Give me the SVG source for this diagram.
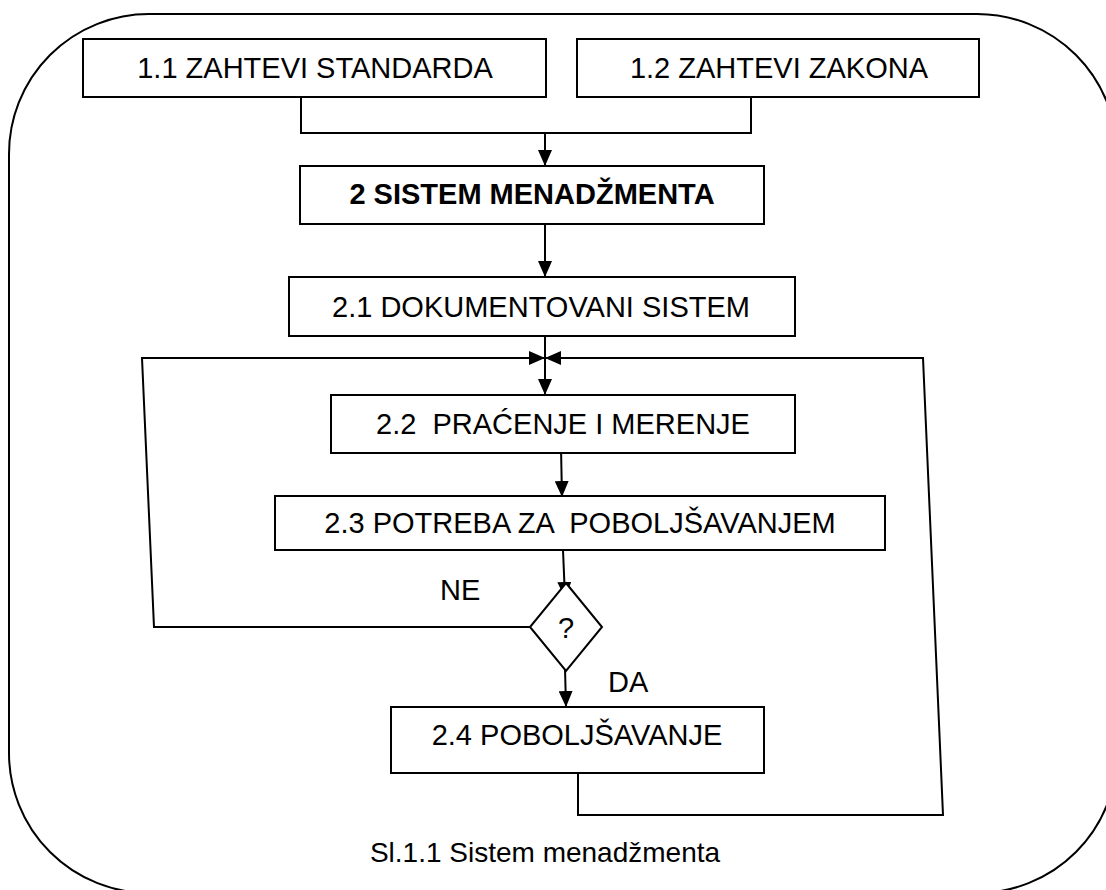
<svg xmlns="http://www.w3.org/2000/svg" width="1106" height="890" viewBox="0 0 1106 890">
<style>
.box{fill:#fff;stroke:#000;stroke-width:2}
.ln{fill:none;stroke:#000;stroke-width:2}
.t{font-family:"Liberation Sans",Arial,sans-serif;font-size:29px;fill:#000;text-anchor:middle}
.b{font-weight:bold}
.l{text-anchor:start}
.c{font-size:28px}
</style>
<defs>
<marker id="ah" markerUnits="userSpaceOnUse" markerWidth="16" markerHeight="14" refX="16" refY="7" orient="auto">
<path d="M0,0 L16,7 L0,14 z" fill="#000"/>
</marker>
</defs>
<rect id="frame" x="9" y="14" width="1108" height="879" rx="140" ry="140" class="ln"/>
<g id="connectors">
<path class="ln" d="M301,93 L301,133 L751,133 L751,97"/>
<path class="ln" d="M545,133 L545,166" marker-end="url(#ah)"/>
<path class="ln" d="M545,224 L545,277" marker-end="url(#ah)"/>
<path class="ln" d="M545,336 L545,395" marker-end="url(#ah)"/>
<path class="ln" d="M530,627 L154,627 L142,358 L545,358" marker-end="url(#ah)"/>
<path class="ln" d="M578,769 L578,815 L943,815 L923,358 L545,358" marker-end="url(#ah)"/>
<path class="ln" d="M561,448 L562,497" marker-end="url(#ah)"/>
<path class="ln" d="M563,550 L565,598" marker-end="url(#ah)"/>
<path class="ln" d="M565,668 L566,707" marker-end="url(#ah)"/>
</g>
<g id="n11"><rect class="box" x="83" y="39" width="463" height="58"/><text class="t" x="315" y="78">1.1 ZAHTEVI STANDARDA</text></g>
<g id="n12"><rect class="box" x="577" y="39" width="402" height="58"/><text class="t" x="779" y="78">1.2 ZAHTEVI ZAKONA</text></g>
<g id="n2"><rect class="box" x="300" y="166" width="464" height="58"/><text class="t b" x="532" y="204">2 SISTEM MENADŽMENTA</text></g>
<g id="n21"><rect class="box" x="289" y="277" width="506" height="59"/><text class="t" x="541" y="317">2.1 DOKUMENTOVANI SISTEM</text></g>
<g id="n22"><rect class="box" x="331" y="395" width="464" height="58"/><text class="t" x="563" y="434" xml:space="preserve">2.2  PRAĆENJE I MERENJE</text></g>
<g id="n23"><rect class="box" x="275" y="496" width="610" height="54"/><text class="t" x="580" y="533" xml:space="preserve">2.3 POTREBA ZA  POBOLJŠAVANJEM</text></g>
<g id="dec"><polygon class="box" points="566,583 602,627 566,671 530,627"/><text class="t" x="566" y="638">?</text></g>
<g id="lblNE"><text class="t l" x="440" y="600">NE</text></g>
<g id="lblDA"><text class="t l" x="608" y="692">DA</text></g>
<g id="n24"><rect class="box" x="391" y="707" width="373" height="66"/><text class="t" x="577" y="745">2.4 POBOLJŠAVANJE</text></g>
<g id="caption"><text class="t c" x="545" y="862">Sl.1.1 Sistem menadžmenta</text></g>
</svg>
